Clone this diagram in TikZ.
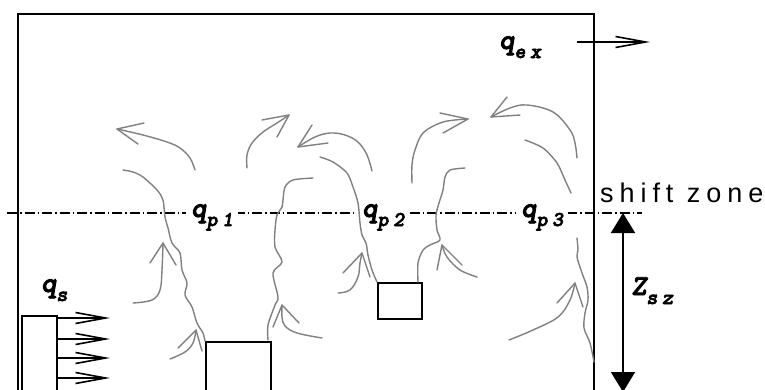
\documentclass[tikz,border=0pt]{standalone}
\usepackage{fontspec}
\setmainfont{Liberation Sans}
\newfontfamily\qmain{lmmonolt10-boldoblique.otf}[FakeBold=3]
\newfontfamily\qsub{lmmonolt10-boldoblique.otf}[FakeBold=3,LetterSpace=22]
\newfontfamily\szfont{Liberation Sans}[LetterSpace=22]
\usetikzlibrary{arrows.meta}
\definecolor{plume}{RGB}{128,128,128}
\tikzset{
  wall/.style={line width=1.8pt},
  obj/.style={draw, line width=1.8pt, rectangle, inner sep=0pt, anchor=north west},
  flow/.style={line width=1.6pt, -{Straight Barb[length=30pt,width=11pt]}},
  plumeline/.style={draw=plume, line width=1.4pt, line join=round, line cap=round},
  qlab/.style={fill=white, inner xsep=5pt, inner ysep=1pt, anchor=base west},
  sublab/.style={inner sep=0pt, anchor=base west},
}
\newcommand{\qq}[2]{{\fontsize{29}{29}\qmain #1}{\fontsize{21}{21}\qsub\raisebox{-9pt}{#2}}}
\begin{document}
\begin{tikzpicture}[x=1pt,y=-1pt]
\useasboundingbox (0,0) rectangle (765,389);
\clip (0,0) rectangle (765,389);

% room walls
\draw[wall] (18,395) -- (18,14) -- (594,14) -- (594,395);

% shift zone line
\draw[line width=1.2pt, dash pattern=on 10pt off 3pt on 1.5pt off 3pt] (7,213) -- (642,213);

% objects
\node[obj, minimum width=35pt, minimum height=85pt] (src) at (21,315) {};
\node[obj, minimum width=65pt, minimum height=60pt] (box1) at (205,341) {};
\node[obj, minimum width=44pt, minimum height=36pt] (box2) at (377,282) {};

% supply flows
\coordinate (s1) at (110,318);
\coordinate (s2) at (110,339);
\coordinate (s3) at (110,358);
\coordinate (s4) at (110,378);
\draw[flow] (src.east |- s1) -- (s1);
\draw[flow] (src.east |- s2) -- (s2);
\draw[flow] (src.east |- s3) -- (s3);
\draw[flow] (src.east |- s4) -- (s4);

% exhaust
\coordinate (ex0) at (577,42);
\coordinate (ex1) at (650,42);
\draw[flow] (ex0) -- (ex1);

% shift zone height
\coordinate (zt) at (623,213);
\coordinate (zb) at (623,392);
\draw[line width=1.8pt, {Triangle[length=20pt,width=24pt]}-{Triangle[length=20pt,width=24pt]}] (zt) -- (zb);

% labels
\node[qlab] (qp1) at (186,217) {\qq{q}{p1}};
\node[qlab] (qp2) at (357,217) {\qq{q}{p2}};
\node[qlab] (qp3) at (516,217) {\qq{q}{p3}};
\node[sublab] (qex) at (499,49) {\qq{q}{ex}};
\node[sublab] (qs) at (41,292) {\qq{q}{s}};
\node[sublab] (zsz) at (631,295) {\qq{Z}{sz}};
\node[sublab] (shz) at (600,202) {\fontsize{27}{27}\szfont shift zone};

% plume 1
\draw[plumeline] plot[smooth, tension=0.5] coordinates {(123,170) (133,172) (143,177) (157,190) (163,200) (165,217) (168,228) (172,243) (180,253) (182,270) (187,283) (185,295) (192,307) (197,323) (203,333) (205,341)};
\draw[plumeline] plot[smooth, tension=0.5] coordinates {(313,178) (293,180) (285,187) (283,200) (282,207) (277,215) (275,230) (275,247) (282,262) (273,273) (278,297) (275,305) (268,325) (268,340)};
\draw[plumeline] plot[smooth, tension=0.6] coordinates {(195,170) (190,158) (180,148) (167,142) (143,135) (117,129)};
\draw[plumeline] (144,123) -- (117,129) -- (138,144);
\draw[plumeline] plot[smooth, tension=0.6] coordinates {(247,168) (247,155) (252,143) (263,132) (277,123) (289,115)};
\draw[plumeline] (262,120) -- (289,115) -- (277,137);
\draw[plumeline] plot[smooth, tension=0.6] coordinates {(133,303) (152,300) (160,290) (162,270) (163,243)};
\draw[plumeline] (150,263) -- (163,243) -- (176,265);
\draw[plumeline] plot[smooth, tension=0.6] coordinates {(170,359) (185,352) (193,343) (196,330)};
\draw[plumeline] (178,348) -- (196,330) -- (202,351);
\draw[plumeline] plot[smooth, tension=0.6] coordinates {(322,338) (297,333) (285,326) (282,317) (282,305)};
\draw[plumeline] (273,327) -- (282,305) -- (299,323);

% plume 2
\draw[plumeline] plot[smooth, tension=0.5] coordinates {(320,157) (333,162) (347,173) (353,187) (358,203) (360,223) (362,235) (366,243) (368,255) (372,270) (377,282)};
\draw[plumeline] plot[smooth, tension=0.5] coordinates {(465,168) (450,170) (445,177) (443,190) (439,203) (436,215) (437,230) (440,240) (430,245) (423,250) (418,263) (418,282)};
\draw[plumeline] plot[smooth, tension=0.6] coordinates {(372,171) (367,155) (358,142) (345,135) (330,133) (315,137) (298,147)};
\draw[plumeline] (312,125) -- (298,147) -- (328,143);
\draw[plumeline] plot[smooth, tension=0.6] coordinates {(412,183) (412,165) (415,150) (423,133) (440,123) (455,120) (468,119)};
\draw[plumeline] (440,113) -- (468,119) -- (443,133);
\draw[plumeline] plot[smooth, tension=0.6] coordinates {(338,293) (350,290) (358,277) (360,263) (362,253)};
\draw[plumeline] (343,273) -- (362,253) -- (370,277);
\draw[plumeline] plot[smooth, tension=0.6] coordinates {(477,277) (460,270) (447,257) (442,245)};
\draw[plumeline] (437,270) -- (442,245) -- (462,265);

% plume 3
\draw[plumeline] plot[smooth, tension=0.6] coordinates {(577,158) (575,143) (570,130) (553,112) (527,105) (510,108) (491,117)};
\draw[plumeline] (507,97) -- (491,117) -- (520,115);
\draw[plumeline] plot[smooth, tension=0.5] coordinates {(525,140) (543,148) (557,163) (565,180) (571,193)};
\draw[plumeline] plot[smooth, tension=0.5] coordinates {(577,238) (578,250) (577,257) (582,273) (587,287) (588,300) (585,313) (584,328) (590,343) (594,362)};
\draw[plumeline] plot[smooth, tension=0.6] coordinates {(509,340) (533,330) (558,317) (570,300) (575,283)};
\draw[plumeline] (557,303) -- (575,283) -- (583,307);
\end{tikzpicture}
\end{document}
